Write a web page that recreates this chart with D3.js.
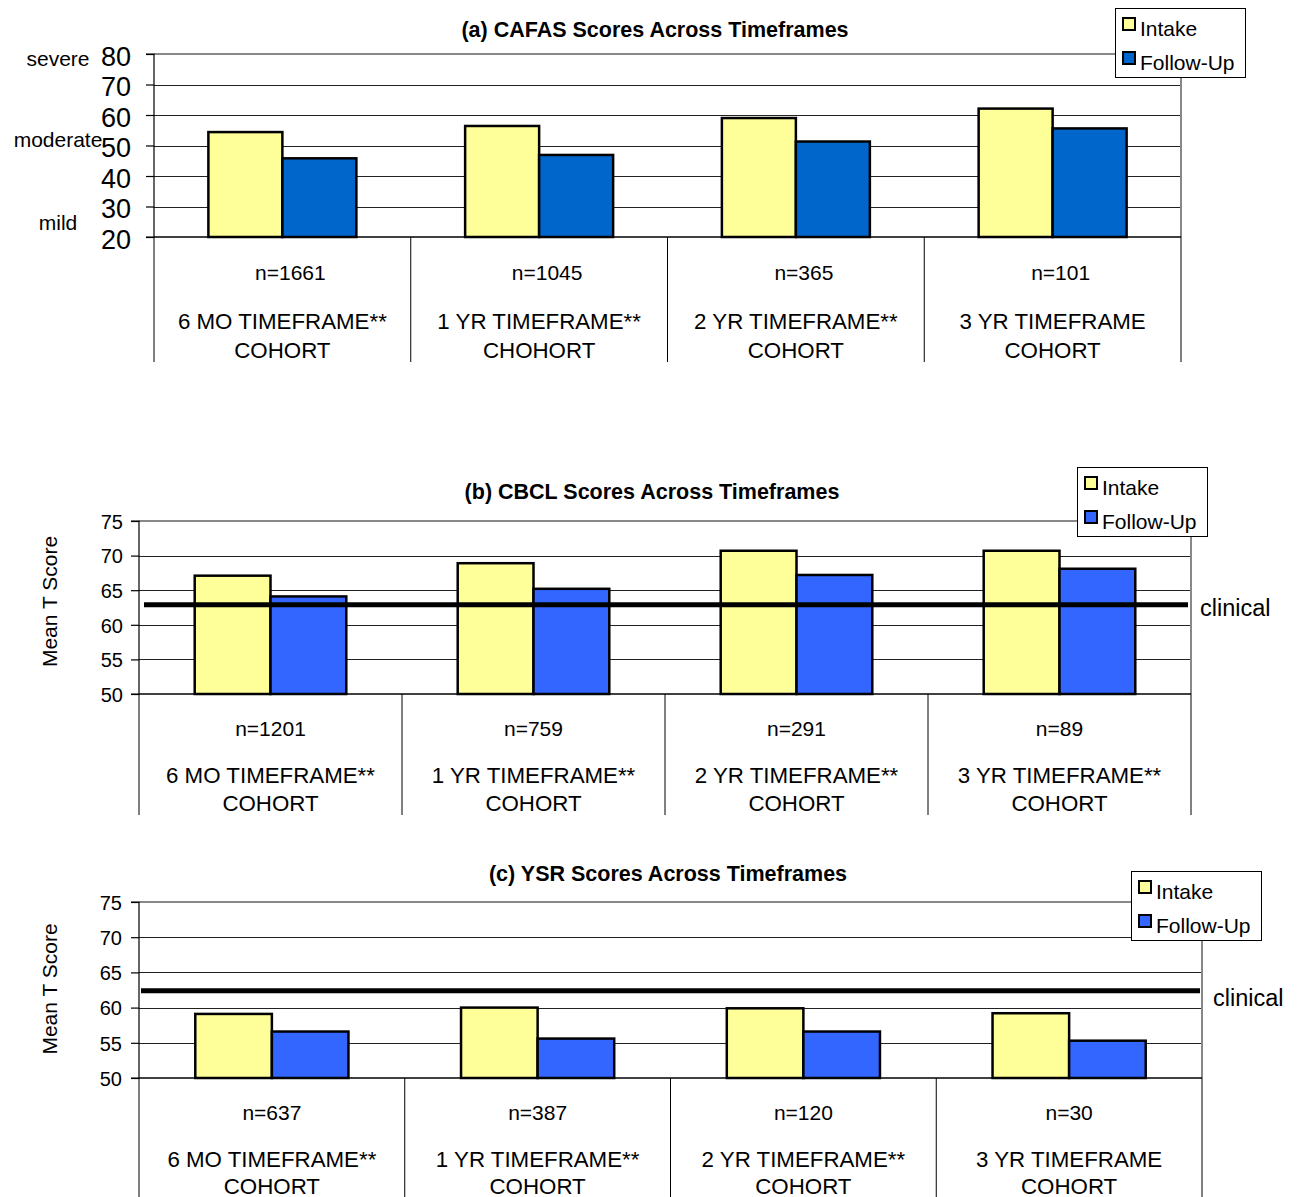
<!DOCTYPE html>
<html>
<head>
<meta charset="utf-8">
<script src="https://cdn.jsdelivr.net/npm/d3@7"></script>
<style>
  html, body { margin: 0; padding: 0; background: #fff; }
  svg { display: block; font-family: "Liberation Sans", Arial, Helvetica, sans-serif; }
</style>
</head>
<body>
<svg id="chart" width="1298" height="1197"></svg>
<script>
// ---------- DATA ----------
const seriesNames = ["Intake", "Follow-Up"];

// (a) CAFAS
const cafasTitle = "(a) CAFAS Scores Across Timeframes";
const cafasN = ["n=1661", "n=1045", "n=365", "n=101"];
const cafasCatLine1 = ["6 MO TIMEFRAME**", "1 YR TIMEFRAME**", "2 YR TIMEFRAME**", "3 YR TIMEFRAME"];
const cafasCatLine2 = ["COHORT", "CHOHORT", "COHORT", "COHORT"];
const cafasIntake = [54.4, 56.4, 59.0, 62.1];
const cafasFollowUp = [45.8, 46.9, 51.3, 55.6];
const cafasTicks = [20, 30, 40, 50, 60, 70, 80];
const cafasSeverityLabels = ["severe", "moderate", "mild"];
const cafasSeverityValues = [78.4, 51.8, 24.6];

// (b) CBCL
const cbclTitle = "(b) CBCL Scores Across Timeframes";
const cbclN = ["n=1201", "n=759", "n=291", "n=89"];
const cbclCatLine1 = ["6 MO TIMEFRAME**", "1 YR TIMEFRAME**", "2 YR TIMEFRAME**", "3 YR TIMEFRAME**"];
const cbclCatLine2 = ["COHORT", "COHORT", "COHORT", "COHORT"];
const cbclIntake = [67.1, 68.9, 70.7, 70.7];
const cbclFollowUp = [64.1, 65.2, 67.2, 68.1];
const cbclTicks = [50, 55, 60, 65, 70, 75];
const cbclClinical = 62.9;

// (c) YSR
const ysrTitle = "(c) YSR Scores Across Timeframes";
const ysrN = ["n=637", "n=387", "n=120", "n=30"];
const ysrCatLine1 = ["6 MO TIMEFRAME**", "1 YR TIMEFRAME**", "2 YR TIMEFRAME**", "3 YR TIMEFRAME"];
const ysrCatLine2 = ["COHORT", "COHORT", "COHORT", "COHORT"];
const ysrIntake = [59.1, 60.0, 59.9, 59.2];
const ysrFollowUp = [56.6, 55.6, 56.6, 55.3];
const ysrTicks = [50, 55, 60, 65, 70, 75];
const ysrClinical = 62.4;

const yAxisTitle = "Mean T Score";
const clinicalLabel = "clinical";

// ---------- DRAW ----------
const svg = d3.select("#chart");
const FONT = 21;
const CAT_FONT = 22.3;
const TITLE_FONT = 21.5;

function drawChart(cfg) {
  const g = svg.append("g");
  const cats = cfg.line1.map((d, i) => i);
  const x0 = d3.scaleBand().domain(cats).range([cfg.left, cfg.right]).paddingInner(0).paddingOuter(0);
  const x1 = d3.scaleBand().domain(seriesNames).range([0, x0.bandwidth()]).paddingInner(0).paddingOuter(0.735);
  const y = d3.scaleLinear().domain([cfg.ticks[0], cfg.ticks[cfg.ticks.length - 1]]).range([cfg.bottom, cfg.top]);

  // title
  g.append("text").attr("x", cfg.titleX).attr("y", cfg.titleY)
    .attr("text-anchor", "middle").attr("font-weight", "bold").attr("font-size", TITLE_FONT)
    .text(cfg.title);

  // gridlines
  g.append("g").selectAll("line").data(cfg.ticks.slice(1, -1)).join("line")
    .attr("x1", cfg.left).attr("x2", cfg.right)
    .attr("y1", d => Math.round(y(d)) + 0.5).attr("y2", d => Math.round(y(d)) + 0.5)
    .attr("stroke", "#222").attr("stroke-width", 1.2);
  // plot border (top + right) gray
  g.append("path")
    .attr("d", `M${cfg.left},${y(cfg.ticks[cfg.ticks.length-1])}H${cfg.right}V${cfg.bottom}`)
    .attr("fill", "none").attr("stroke", "#888").attr("stroke-width", 2);

  // y axis
  const yAxis = d3.axisLeft(y).tickValues(cfg.ticks).tickSize(8).tickPadding(cfg.tickPad).tickFormat(d3.format("d"));
  const ya = g.append("g").attr("transform", `translate(${cfg.left},0)`).call(yAxis);
  ya.select(".domain").attr("stroke", "#000").attr("stroke-width", 1.2).attr("d", `M-8,${y(cfg.ticks[cfg.ticks.length-1])}H0V${cfg.bottom}H-8`);
  ya.selectAll(".tick line").attr("stroke", "#000").attr("stroke-width", 1.2);
  ya.selectAll(".tick text").attr("font-size", cfg.tickFont).attr("fill", "#000")
    .attr("font-family", '"Liberation Sans", Arial, sans-serif').attr("dy", cfg.tickDy);

  // bars
  const data = cats.map(i => ({ i, vals: [cfg.intake[i], cfg.follow[i]] }));
  const grp = g.append("g").selectAll("g").data(data).join("g")
    .attr("transform", d => `translate(${x0(d.i)},0)`);
  grp.selectAll("rect").data(d => d.vals.map((v, k) => ({ s: seriesNames[k], v }))).join("rect")
    .attr("x", d => x1(d.s)).attr("width", x1.bandwidth())
    .attr("y", d => y(d.v)).attr("height", d => cfg.bottom - y(d.v))
    .attr("fill", d => d.s === "Intake" ? "#FFFF99" : cfg.followColor)
    .attr("stroke", "#000").attr("stroke-width", 2.5);

  // bottom axis line
  g.append("line").attr("x1", cfg.left).attr("x2", cfg.right)
    .attr("y1", cfg.bottom).attr("y2", cfg.bottom).attr("stroke", "#000").attr("stroke-width", 1.5);

  // category separators
  const bounds = cats.map(i => x0(i)).concat([cfg.right]);
  g.append("g").selectAll("line").data(bounds).join("line")
    .attr("x1", d => d).attr("x2", d => d).attr("y1", cfg.bottom).attr("y2", cfg.sepBottom)
    .attr("stroke", "#000").attr("stroke-width", 1);

  // category labels
  const cx = i => x0(i) + x0.bandwidth() / 2;
  g.append("g").selectAll("text").data(cfg.n).join("text")
    .attr("x", (d, i) => cx(i) + (cfg.nDx || 0)).attr("y", cfg.nY).attr("text-anchor", "middle")
    .attr("font-size", FONT).text(d => d);
  [[cfg.line1, cfg.l1Y], [cfg.line2, cfg.l2Y]].forEach(([arr, yy]) => {
    g.append("g").selectAll("text").data(arr).join("text")
      .attr("x", (d, i) => cx(i)).attr("y", yy).attr("text-anchor", "middle")
      .attr("font-size", CAT_FONT).text(d => d);
  });

  // clinical line
  if (cfg.clinical !== undefined) {
    g.append("line").attr("x1", cfg.clinX1).attr("x2", cfg.clinX2)
      .attr("y1", y(cfg.clinical)).attr("y2", y(cfg.clinical))
      .attr("stroke", "#000").attr("stroke-width", 5);
    g.append("text").attr("x", cfg.clinTextX).attr("y", y(cfg.clinical) + cfg.clinTextDy)
      .attr("font-size", 23.5).text(clinicalLabel);
  }

  // y axis title
  if (cfg.yTitle) {
    g.append("text").attr("transform", `translate(${cfg.yTitleX},${(cfg.top + cfg.bottom) / 2 + cfg.yTitleDy}) rotate(-90)`)
      .attr("text-anchor", "middle").attr("font-size", FONT).attr("dy", "0.35em").text(cfg.yTitle);
  }

  // severity labels
  if (cfg.sevLabels) {
    g.append("g").selectAll("text").data(cfg.sevLabels).join("text")
      .attr("x", 58).attr("y", (d, i) => y(cfg.sevValues[i])).attr("dy", "0.35em")
      .attr("text-anchor", "middle").attr("font-size", FONT).text(d => d);
  }

  // legend
  const lg = g.append("g").attr("transform", `translate(${cfg.legX},${cfg.legY})`);
  lg.append("rect").attr("x", 0.5).attr("y", 0.5).attr("width", 130).attr("height", 69)
    .attr("fill", "#fff").attr("stroke", "#000").attr("stroke-width", 1);
  seriesNames.forEach((s, k) => {
    const yy = 22 + k * 34;
    lg.append("rect").attr("x", 8).attr("y", yy - 12).attr("width", 12).attr("height", 12)
      .attr("fill", k === 0 ? "#FFFF99" : cfg.followColor).attr("stroke", "#000").attr("stroke-width", 2);
    lg.append("text").attr("x", 25).attr("y", yy + 6).attr("font-size", FONT).text(s);
  });
}

drawChart({
  title: cafasTitle, titleX: 655, titleY: 37,
  left: 154, right: 1181, top: 54, bottom: 237, sepBottom: 362,
  ticks: cafasTicks, tickFont: 27, tickPad: 15, tickDy: "0.42em",
  intake: cafasIntake, follow: cafasFollowUp, followColor: "#0066CC",
  n: cafasN, nDx: 8, line1: cafasCatLine1, line2: cafasCatLine2, nY: 280, l1Y: 329, l2Y: 358,
  sevLabels: cafasSeverityLabels, sevValues: cafasSeverityValues,
  legX: 1115, legY: 8
});

drawChart({
  title: cbclTitle, titleX: 652, titleY: 499,
  left: 139, right: 1191, top: 521, bottom: 694, sepBottom: 815,
  ticks: cbclTicks, tickFont: 20, tickPad: 8, tickDy: "0.36em",
  intake: cbclIntake, follow: cbclFollowUp, followColor: "#3366FF",
  n: cbclN, line1: cbclCatLine1, line2: cbclCatLine2, nY: 736, l1Y: 783, l2Y: 811,
  clinical: cbclClinical, clinX1: 144, clinX2: 1188, clinTextX: 1200, clinTextDy: 11,
  yTitle: yAxisTitle, yTitleX: 50, yTitleDy: -6,
  legX: 1077, legY: 467
});

drawChart({
  title: ysrTitle, titleX: 668, titleY: 881,
  left: 139, right: 1202, top: 902, bottom: 1078, sepBottom: 1197,
  ticks: ysrTicks, tickFont: 20, tickPad: 9, tickDy: "0.36em",
  intake: ysrIntake, follow: ysrFollowUp, followColor: "#3366FF",
  n: ysrN, line1: ysrCatLine1, line2: ysrCatLine2, nY: 1120, l1Y: 1167, l2Y: 1194,
  clinical: ysrClinical, clinX1: 141, clinX2: 1200, clinTextX: 1213, clinTextDy: 15,
  yTitle: yAxisTitle, yTitleX: 50, yTitleDy: -1,
  legX: 1131, legY: 871
});
</script>
</body>
</html>
